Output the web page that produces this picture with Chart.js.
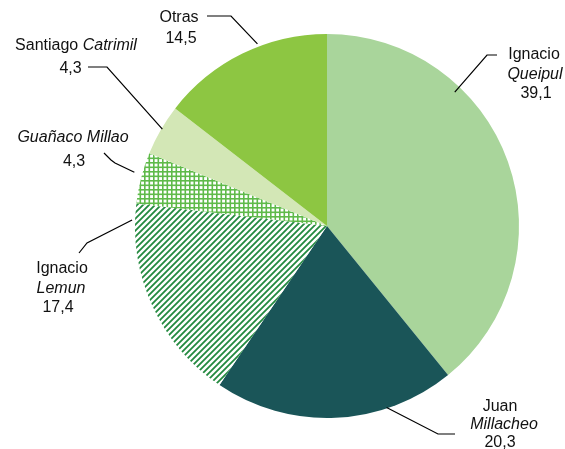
<!DOCTYPE html>
<html>
<head>
<meta charset="utf-8">
<script src="https://cdn.jsdelivr.net/npm/chart.js@4"></script>
<style>
  body { margin: 0; background: #fff; }
  canvas { display: block; }
</style>
</head>
<body>
<canvas id="grafico" width="565" height="449"></canvas>
<script>
// Datos del gráfico (porcentajes)
const categorias = ["Ignacio Queipul", "Juan Millacheo", "Ignacio Lemun", "Guañaco Millao", "Santiago Catrimil", "Otras"];
const valores = [39.1, 20.3, 17.4, 4.3, 4.3, 14.5];

// Texto de cada etiqueta: [texto, cursiva]
const lineasNombre = [
  [[["Ignacio", false]], [["Queipul", true]]],
  [[["Juan", false]], [["Millacheo", true]]],
  [[["Ignacio", false]], [["Lemun", true]]],
  [[["Guañaco Millao", true]]],
  [[["Santiago ", false], ["Catrimil", true]]],
  [[["Otras", false]]]
];

// Posición de etiquetas y líneas guía
const disposicion = [
  { frac: 0.31, dr: -7, guia: [[487, 55], [497, 55]], xs: [534, 535, 536], ys: [55, 74.5, 94] },
  { frac: 0.286, dr: -1, guia: [[438, 434], [455, 434]], xs: [500, 504, 500], ys: [407, 425, 443] },
  { frac: 0.92, dr: 3, guia: [[87, 243], [79, 253]], xs: [62, 61, 58], ys: [269, 289, 308] },
  { frac: 0.57, dr: 8, guia: [[115, 163], [111, 160], [104, 153]], xs: [73, 74], ys: [137.5, 162] },
  { frac: 0.53, dr: -1, guia: [[107, 67], [88, 67]], xs: [76, 70.5], ys: [46, 69] },
  { frac: 0.6, dr: 3, guia: [[231, 16], [207, 16]], xs: [179, 181], ys: [17.5, 39] }
];

// Tramas
function tramaDiagonal() {
  const n = 6;
  const c = document.createElement("canvas");
  c.width = n; c.height = n;
  const g = c.getContext("2d");
  g.fillStyle = "#fff";
  g.fillRect(0, 0, n, n);
  g.strokeStyle = "#23893f";
  g.lineWidth = 1.8;
  g.beginPath();
  g.moveTo(0, n); g.lineTo(n, 0);
  g.moveTo(-1, 1); g.lineTo(1, -1);
  g.moveTo(n - 1, n + 1); g.lineTo(n + 1, n - 1);
  g.stroke();
  return g.createPattern(c, "repeat");
}

function tramaCuadricula() {
  const n = 4.5;
  const c = document.createElement("canvas");
  c.width = 9; c.height = 9;
  const g = c.getContext("2d");
  g.fillStyle = "#5fba4a";
  g.fillRect(0, 0, 9, 9);
  g.fillStyle = "#fff";
  [0, 1].forEach(i => [0, 1].forEach(j => g.fillRect(1.6 + i * n, 1.6 + j * n, 2.9, 2.9)));
  return g.createPattern(c, "repeat");
}

const colores = ["#a9d59b", "#1a5558", tramaDiagonal(), tramaCuadricula(), "#d3e7b6", "#8dc642"];

const fmt = v => v.toFixed(1).replace(".", ",");

const etiquetas = {
  id: "etiquetas",
  afterDraw(chart) {
    const ctx = chart.ctx;
    const meta = chart.getDatasetMeta(0);
    ctx.save();
    meta.data.forEach((arco, i) => {
      const d = disposicion[i];
      const a = arco.startAngle + d.frac * (arco.endAngle - arco.startAngle);
      const r = arco.outerRadius + d.dr;
      const px = arco.x + Math.cos(a) * r;
      const py = arco.y + Math.sin(a) * r;

      ctx.strokeStyle = "#000";
      ctx.lineWidth = 1.2;
      ctx.beginPath();
      ctx.moveTo(px, py);
      d.guia.forEach(p => ctx.lineTo(p[0], p[1]));
      ctx.stroke();

      const lineas = lineasNombre[i].concat([[[fmt(valores[i]), false]]]);
      ctx.fillStyle = "#111";
      ctx.textBaseline = "middle";
      ctx.textAlign = "left";
      lineas.forEach((partes, j) => {
        const anchos = partes.map(([t, it]) => {
          ctx.font = (it ? "italic " : "") + "16px 'Liberation Sans', Arial, sans-serif";
          return ctx.measureText(t).width;
        });
        let x = d.xs[j] - anchos.reduce((s, w) => s + w, 0) / 2;
        partes.forEach(([t, it], k) => {
          ctx.font = (it ? "italic " : "") + "16px 'Liberation Sans', Arial, sans-serif";
          ctx.fillText(t, x, d.ys[j]);
          x += anchos[k];
        });
      });
    });
    ctx.restore();
  }
};

new Chart(document.getElementById("grafico"), {
  type: "pie",
  data: {
    labels: categorias,
    datasets: [{
      data: valores,
      backgroundColor: colores,
      borderWidth: 0
    }]
  },
  options: {
    responsive: false,
    animation: false,
    layout: { padding: { left: 135, right: 46, top: 34, bottom: 31 } },
    plugins: {
      legend: { display: false },
      tooltip: { enabled: false }
    }
  },
  plugins: [etiquetas]
});
</script>
</body>
</html>
